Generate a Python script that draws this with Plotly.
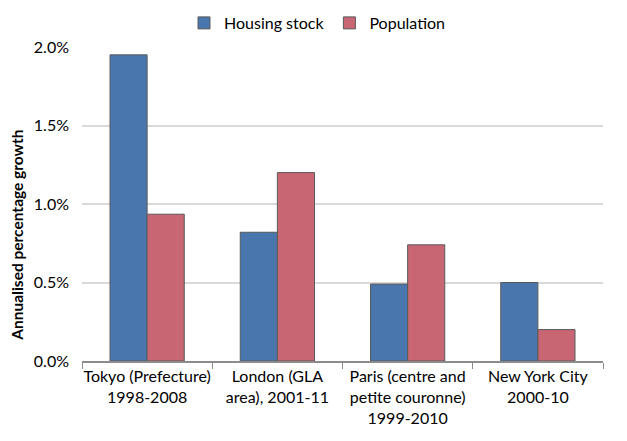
import plotly.graph_objects as go

categories = ["Tokyo (Prefecture)<br>1998-2008", "London (GLA<br>area), 2001-11",
              "Paris (centre and<br>petite couronne)<br>1999-2010", "New York City<br>2000-10"]
housing_stock = [1.95, 0.82, 0.49, 0.50]
population = [0.935, 1.20, 0.74, 0.20]
y_ticks = [0.0, 0.5, 1.0, 1.5, 2.0]
y_tick_labels = ["0.0%", "0.5%", "1.0%", "1.5%", "2.0%"]

font_family = "Lato, Open Sans, sans-serif"

fig = go.Figure()
fig.add_trace(go.Bar(x=categories, y=housing_stock, name="Housing stock",
                     marker=dict(color="#4A76AE", line=dict(color="#5a5a5a", width=1))))
fig.add_trace(go.Bar(x=categories, y=population, name="Population",
                     marker=dict(color="#C86673", line=dict(color="#5a5a5a", width=1))))

fig.update_layout(
    width=619, height=433,
    margin=dict(l=74, r=24, t=39, b=80),
    paper_bgcolor="white", plot_bgcolor="white",
    font=dict(family=font_family, size=16, color="black"),
    barmode="group", bargap=0.43, bargroupgap=0,
    legend=dict(orientation="h", xref="container", yref="container",
                x=0.5, xanchor="center", y=1 - 15 / 433, yanchor="middle",
                font=dict(size=16), itemwidth=30, traceorder="normal"),
    xaxis=dict(showline=True, linecolor="#8c8c8c", linewidth=2, ticks="outside",
               tickson="boundaries", ticklen=6, tickcolor="#8c8c8c", showgrid=False,
               automargin=False, tickangle=0),
    yaxis=dict(range=[0, 2.0], tickvals=y_ticks, ticktext=y_tick_labels,
               showgrid=True, gridcolor="#d9d9d9", gridwidth=1.5, zeroline=False,
               showline=False, ticks="", automargin=False, ticklabelstandoff=12),
    annotations=[dict(text="<b>Annualised percentage growth</b>", textangle=-90,
                      xref="paper", yref="paper", x=-0.124, y=0.40,
                      xanchor="center", yanchor="middle", showarrow=False,
                      font=dict(size=15.5))],
)

fig.write_html("out.html")
